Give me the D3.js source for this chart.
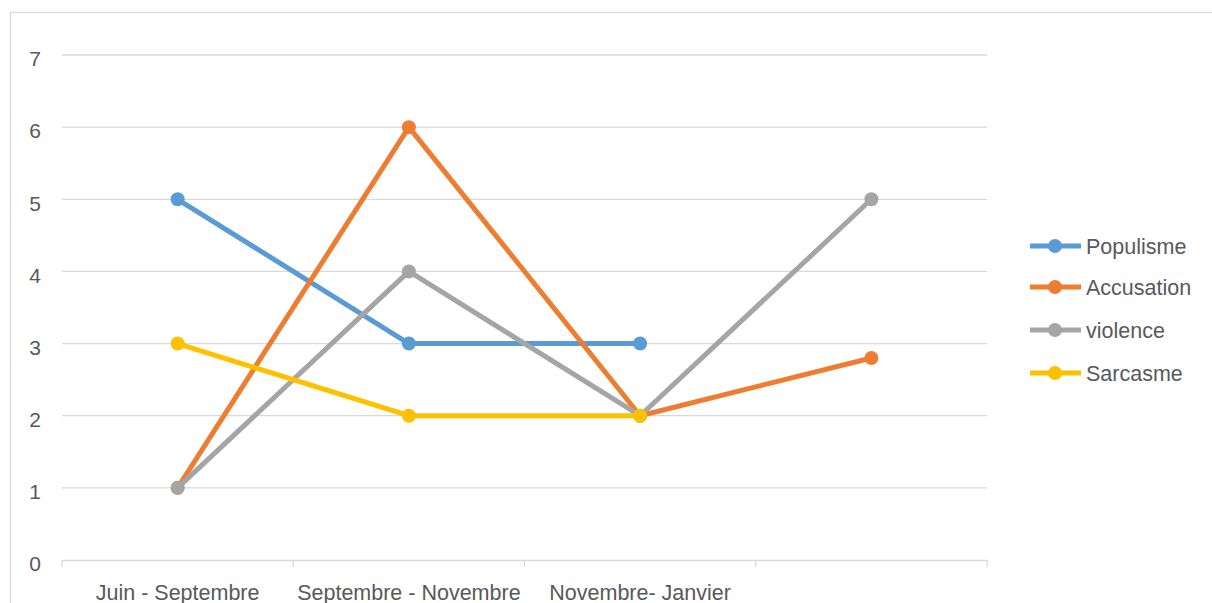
<!DOCTYPE html>
<meta charset="utf-8">
<style>
body { margin: 0; background: #fff; }
text { font-family: "Liberation Sans Narrow", "Liberation Sans", sans-serif; fill: #595959; }
.grid line { stroke: #d9d9d9; stroke-width: 1.3px; }
</style>
<svg width="1212" height="603"></svg>
<script src="https://d3js.org/d3.v7.min.js"></script>
<script>

var categories = ["Juin - Septembre", "Septembre - Novembre", "Novembre- Janvier", ""];
var seriesNames = ["Populisme", "Accusation", "violence", "Sarcasme"];
var populisme = [5, 3, 3, null];
var accusation = [1, 6, 2, 2.8];
var violence = [1, 4, 2, 5];
var sarcasme = [3, 2, 2, null];
var yTicks = [0, 1, 2, 3, 4, 5, 6, 7];
var colors = ["#5B9BD5", "#ED7D31", "#A5A5A5", "#FFC000"];

var svg = d3.select("svg");

// outer chart border
svg.append("rect")
    .attr("x", 10.5).attr("y", 12.5)
    .attr("width", 1220).attr("height", 620)
    .attr("fill", "none").attr("stroke", "#d9d9d9").attr("stroke-width", 1.3);

var x = d3.scaleBand().domain(d3.range(categories.length)).range([62, 987]);
var y = d3.scaleLinear().domain([0, 7]).range([560, 55]);

// gridlines
svg.append("g").attr("class", "grid")
  .selectAll("line")
  .data(yTicks.slice(1))
  .enter().append("line")
    .attr("x1", 62).attr("x2", 987)
    .attr("y1", function(d) { return y(d); })
    .attr("y2", function(d) { return y(d); });

// y labels
svg.append("g")
  .selectAll("text")
  .data(yTicks)
  .enter().append("text")
    .attr("x", 35).attr("y", function(d) { return y(d) + 4; })
    .attr("dy", "0.35em")
    .attr("text-anchor", "middle")
    .attr("font-size", 21)
    .text(function(d) { return d; });

// x axis
var xAxis = svg.append("g")
    .attr("transform", "translate(0,560)")
    .call(d3.axisBottom(x).tickSize(0).tickFormat(function(i) { return categories[i]; }));
xAxis.select(".domain").attr("stroke", "#d9d9d9").attr("stroke-width", 1.3);
xAxis.selectAll(".tick text")
    .attr("dy", 0).attr("y", 40)
    .attr("font-size", 21.5)
    .attr("font-family", "Liberation Sans Narrow, Liberation Sans, sans-serif")
    .attr("fill", "#595959");
svg.append("g").selectAll("line")
  .data(d3.range(categories.length + 1))
  .enter().append("line")
    .attr("x1", function(i) { return 62 + i * x.bandwidth(); })
    .attr("x2", function(i) { return 62 + i * x.bandwidth(); })
    .attr("y1", 560).attr("y2", 567)
    .attr("stroke", "#d9d9d9").attr("stroke-width", 1.3);

var allSeries = [populisme, accusation, violence, sarcasme];
var cx = function(i) { return x(i) + x.bandwidth() / 2; };

var line = d3.line()
    .defined(function(d) { return d != null; })
    .x(function(d, i) { return cx(i); })
    .y(function(d) { return y(d); });

allSeries.forEach(function(s, k) {
  var g = svg.append("g");
  g.append("path")
      .datum(s)
      .attr("d", line)
      .attr("fill", "none")
      .attr("stroke", colors[k])
      .attr("stroke-width", 5)
      .attr("stroke-linejoin", "round");
  g.selectAll("circle")
    .data(s.map(function(v, i) { return {v: v, i: i}; }).filter(function(d) { return d.v != null; }))
    .enter().append("circle")
      .attr("cx", function(d) { return cx(d.i); })
      .attr("cy", function(d) { return y(d.v); })
      .attr("r", 7)
      .attr("fill", colors[k]);
});

// legend
var legend = svg.append("g").selectAll("g")
  .data(seriesNames)
  .enter().append("g")
    .attr("transform", function(d, i) { return "translate(1030," + [246, 287, 330, 373][i] + ")"; });
legend.append("line")
    .attr("x1", 0).attr("x2", 51)
    .attr("stroke", function(d, i) { return colors[i]; })
    .attr("stroke-width", 5);
legend.append("circle")
    .attr("cx", 25).attr("r", 7)
    .attr("fill", function(d, i) { return colors[i]; });
legend.append("text")
    .attr("x", 56).attr("dy", "0.35em")
    .attr("font-size", 21.5)
    .text(function(d) { return d; });

</script>
